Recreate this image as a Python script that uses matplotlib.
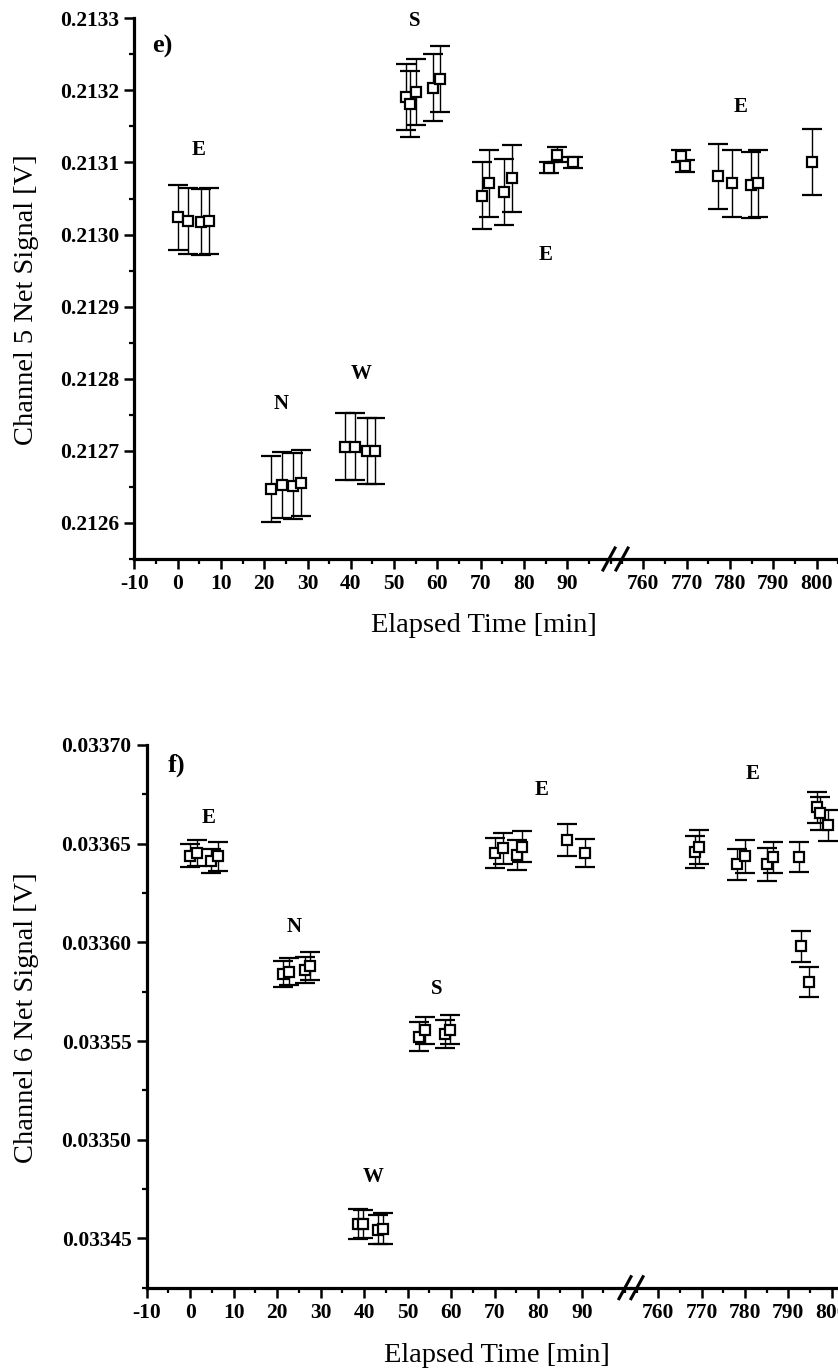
import matplotlib
matplotlib.use("Agg")
import matplotlib.pyplot as plt
from matplotlib.lines import Line2D
from matplotlib.ticker import MultipleLocator, FormatStrFormatter

plt.rcParams['font.family'] = ['Liberation Serif', 'DejaVu Serif']
plt.rcParams['axes.unicode_minus'] = False

# Channel 5 (panel e)
ch5_time = [0.0, 2.3, 5.3, 7.3,
            21.5, 24.0, 26.6, 28.4,
            38.7, 41.0, 43.8, 45.6,
            52.7, 53.7, 55.1, 58.9, 60.6,
            70.2, 71.9, 75.4, 77.2,
            85.8, 87.7, 91.2,
            768.7, 769.6, 777.3, 780.4, 784.8, 786.5, 799.0]
ch5_signal = [0.213024, 0.213019, 0.213017, 0.213019,
              0.212647, 0.212653, 0.212651, 0.212655,
              0.212706, 0.212706, 0.212700, 0.212700,
              0.213191, 0.213181, 0.213198, 0.213204, 0.213216,
              0.213054, 0.213071, 0.213059, 0.213078,
              0.213093, 0.213111, 0.213100,
              0.213109, 0.213095, 0.213081, 0.213071, 0.213069, 0.213071, 0.213101]
ch5_err = [0.000045, 0.000046, 0.000046, 0.000046,
           0.000046, 0.000046, 0.000046, 0.000046,
           0.000046, 0.000046, 0.000046, 0.000046,
           0.000046, 0.000046, 0.000046, 0.000046, 0.000046,
           0.000046, 0.000046, 0.000046, 0.000046,
           0.000007, 0.000011, 0.000007,
           0.000008, 0.000008, 0.000045, 0.000046, 0.000046, 0.000046, 0.000046]
ch5_yticks = [0.2126, 0.2127, 0.2128, 0.2129, 0.2130, 0.2131, 0.2132, 0.2133]
ch5_tags = ['E', 'N', 'W', 'S', 'E', 'E']
ch5_tag_time = [4.8, 24.0, 42.5, 54.8, 85.0, 782.5]
ch5_tag_signal = [0.213117, 0.212765, 0.212807, 0.213296, 0.212971, 0.213177]

# Channel 6 (panel f)
ch6_time = [0.0, 1.5, 4.8, 6.5,
            21.3, 22.8, 26.4, 27.5,
            38.6, 39.8, 43.2, 44.4,
            52.7, 54.0, 58.6, 59.7,
            70.1, 72.0, 75.1, 76.2,
            86.6, 90.8,
            768.5, 769.5, 778.1, 780.0, 785.0, 786.5, 792.5,
            793.0, 794.8, 796.5, 797.3, 799.2]
ch6_signal = [0.0336440, 0.0336454, 0.0336412, 0.0336436,
              0.0335840, 0.0335852, 0.0335861, 0.0335880,
              0.0334574, 0.0334574, 0.0334544, 0.0334549,
              0.0335522, 0.0335554, 0.0335536, 0.0335558,
              0.0336454, 0.0336476, 0.0336443, 0.0336485,
              0.0336521, 0.0336454,
              0.0336459, 0.0336484, 0.0336395, 0.0336436, 0.0336395, 0.0336431, 0.0336431,
              0.0335979, 0.0335798, 0.0336684, 0.0336653, 0.0336593]
ch6_err = [0.0000060, 0.0000065, 0.0000060, 0.0000075,
           0.0000065, 0.0000070, 0.0000065, 0.0000070,
           0.0000075, 0.0000070, 0.0000075, 0.0000080,
           0.0000075, 0.0000070, 0.0000070, 0.0000075,
           0.0000075, 0.0000080, 0.0000075, 0.0000080,
           0.0000081, 0.0000070,
           0.0000080, 0.0000085, 0.0000080, 0.0000085, 0.0000085, 0.0000080, 0.0000077,
           0.0000078, 0.0000077, 0.0000080, 0.0000085, 0.0000080]
ch6_yticks = [0.03345, 0.03350, 0.03355, 0.03360, 0.03365, 0.03370]
ch6_tags = ['E', 'N', 'W', 'S', 'E', 'E']
ch6_tag_time = [4.2, 23.9, 42.0, 56.7, 80.8, 781.7]
ch6_tag_signal = [0.033663, 0.0336078, 0.0334813, 0.0335762, 0.0336774, 0.0336855]

x_ticks_left = [-10, 0, 10, 20, 30, 40, 50, 60, 70, 80, 90]
x_ticks_right = [760, 770, 780, 790, 800]

W, H = 838, 1371
fig = plt.figure(figsize=(W / 100, H / 100), dpi=100)


def box(x0, x1, ytop, ybot):
    return [x0 / W, 1 - ybot / H, (x1 - x0) / W, (ybot - ytop) / H]


def style(ax):
    for s in ['top', 'right']:
        ax.spines[s].set_visible(False)
    for s in ['left', 'bottom']:
        ax.spines[s].set_linewidth(2.3)
    ax.tick_params(which='major', direction='out', length=7, width=1.8, labelsize=15.5, pad=4)
    ax.tick_params(which='minor', direction='out', length=3.5, width=1.6)
    for lab in ax.get_xticklabels() + ax.get_yticklabels():
        lab.set_fontweight('bold')


def panel(t, v, err, yticks, ylim, yfmt, ystep, tags, tag_t, tag_v,
          x0, xbreak, x1, ytop, ybot, left_lim, right_lim, ms):
    axL = fig.add_axes(box(x0, xbreak, ytop, ybot))
    axR = fig.add_axes(box(xbreak, x1, ytop, ybot), sharey=axL)
    for ax in (axL, axR):
        ax.errorbar(t, v, yerr=err, fmt='s', mfc='white', mec='black', mew=1.6,
                    ms=ms, ecolor='black', elinewidth=1.0, capsize=7.5, capthick=1.4)
        ax.set_facecolor('none')
    axL.set_xlim(*left_lim)
    axR.set_xlim(*right_lim)
    axL.set_ylim(*ylim)
    axL.set_yticks(yticks)
    axL.yaxis.set_minor_locator(MultipleLocator(ystep / 2))
    axL.yaxis.set_major_formatter(FormatStrFormatter(yfmt))
    axL.set_xticks(x_ticks_left)
    axR.set_xticks(x_ticks_right)
    axL.xaxis.set_minor_locator(MultipleLocator(5))
    axR.xaxis.set_minor_locator(MultipleLocator(5))
    style(axL)
    style(axR)
    axR.spines['left'].set_visible(False)
    axR.tick_params(axis='y', which='both', left=False, labelleft=False)
    for lab, tt, vv in zip(tags, tag_t, tag_v):
        ax = axR if tt > 500 else axL
        ax.text(tt, vv, lab, ha='center', va='center', fontsize=15, fontweight='bold')
    return axL, axR


def slashes(xc, yc):
    for cx in xc:
        fig.add_artist(Line2D([(cx - 6) / W, (cx + 6) / W],
                              [1 - (yc + 11) / H, 1 - (yc - 11) / H],
                              transform=fig.transFigure, color='black', lw=2.2))


# panel e
panel(ch5_time, ch5_signal, ch5_err, ch5_yticks, (0.21255, 0.2133), '%.4f', 0.0001,
      ch5_tags, ch5_tag_time, ch5_tag_signal,
      134.3, 613, 860, 18.3, 559, (-10, 100.55), (753, 810.0), 7.5)
slashes([609, 622], 559)
fig.text(152 / W, 1 - 46 / H, 'e)', fontsize=19, fontweight='bold', ha='left', va='center')
fig.text(483.7 / W, 1 - 626 / H, 'Elapsed Time [min]', fontsize=20.5, ha='center', va='center')
fig.text(26.7 / W, 1 - 300 / H, 'Channel 5 Net Signal [V]', fontsize=20.5,
         rotation=90, ha='center', va='center')

# panel f
panel(ch6_time, ch6_signal, ch6_err, ch6_yticks, (0.033425, 0.0337), '%.5f', 0.00005,
      ch6_tags, ch6_tag_time, ch6_tag_signal,
      146.7, 630, 870, 745, 1287.7, (-10, 101.1), (753.5, 808.8), 6.5)
slashes([625, 637], 1287.7)
fig.text(168 / W, 1 - 765 / H, 'f)', fontsize=19, fontweight='bold', ha='left', va='center')
fig.text(497 / W, 1 - 1356 / H, 'Elapsed Time [min]', fontsize=20.5, ha='center', va='center')
fig.text(26.7 / W, 1 - 1018 / H, 'Channel 6 Net Signal [V]', fontsize=20.5,
         rotation=90, ha='center', va='center')

fig.savefig('out.png', dpi=100)
